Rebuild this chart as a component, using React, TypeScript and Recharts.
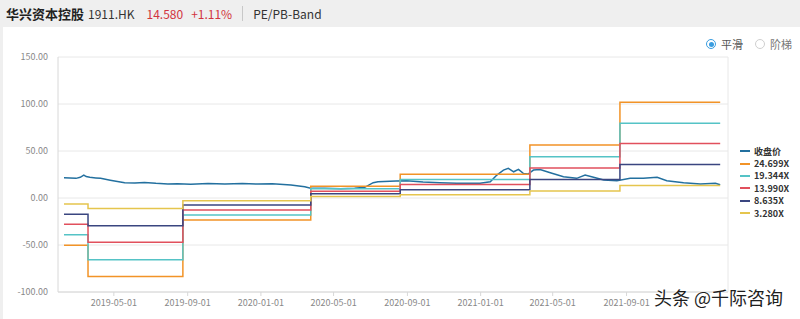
import { CartesianGrid, Line, LineChart, ReferenceLine, XAxis, YAxis } from "recharts";

// close price
const closeDates = [
  "2019-02-07", "2019-02-17", "2019-02-27", "2019-03-06", "2019-03-12", "2019-03-16",
  "2019-03-22", "2019-04-01", "2019-04-09", "2019-04-25", "2019-05-19", "2019-06-05",
  "2019-06-21", "2019-07-10", "2019-07-30", "2019-08-15", "2019-09-06", "2019-10-05",
  "2019-11-02", "2019-12-01", "2019-12-27", "2020-01-20", "2020-02-20", "2020-03-14",
  "2020-03-24", "2020-04-16", "2020-05-13", "2020-06-05", "2020-06-22", "2020-07-06",
  "2020-07-14", "2020-08-13", "2020-08-31", "2020-09-27", "2020-10-25", "2020-11-22",
  "2020-12-31", "2021-01-17", "2021-01-28", "2021-02-08", "2021-02-16", "2021-02-25",
  "2021-03-05", "2021-03-13", "2021-03-21", "2021-03-30", "2021-04-10", "2021-04-27",
  "2021-05-19", "2021-06-10", "2021-06-24", "2021-07-08", "2021-07-25", "2021-08-16",
  "2021-09-07", "2021-09-29", "2021-10-22", "2021-11-07", "2021-12-05", "2022-01-02",
  "2022-01-27", "2022-02-04",
];
const closePrice = [
  21.6, 21.3, 20.9, 22.0, 24.4, 22.8,
  22.0, 21.4, 20.9, 19.0, 16.3, 16.0,
  16.6, 15.6, 14.9, 15.2, 14.5, 15.3,
  14.9, 15.4, 14.9, 15.1, 13.8, 12.0,
  10.3, 10.3, 9.9, 10.4, 11.4, 16.3,
  17.3, 18.0, 18.4, 17.0, 16.3, 15.6,
  15.6, 17.3, 24.4, 29.7, 31.5, 27.9,
  30.4, 26.2, 25.5, 29.7, 30.4, 26.9,
  22.6, 20.9, 24.4, 22.0, 19.1, 18.4,
  20.9, 20.9, 22.0, 18.4, 16.3, 14.9,
  15.6, 14.1,
];

// band levels are flat between report dates
const bandBreaks = [
  "2019-02-07", "2019-03-19", "2019-08-24", "2020-03-24",
  "2020-08-20", "2021-03-24", "2021-08-21", "2022-02-04",
];
const band24699 = [-50.3, -83.5, -23.4, 12.6, 25.2, 56.3, 101.8];
const band19344 = [-39.0, -65.8, -18.0, 9.9, 19.8, 44.0, 79.6];
const band13990 = [-28.0, -47.0, -12.7, 7.2, 14.3, 31.8, 58.0];
const band8635 = [-17.3, -29.4, -7.4, 4.4, 8.8, 19.6, 35.6];
const band3280 = [-6.4, -11.1, -2.8, 1.7, 3.4, 7.5, 13.4];

// the 2022-01-01 label sits under the site stamp in the original, so it is left out
const xTicks = [
  "2019-05-01", "2019-09-01", "2020-01-01", "2020-05-01",
  "2020-09-01", "2021-01-01", "2021-05-01", "2021-09-01",
];
const yTicks = [-100, -50, 0, 50, 100, 150];

const ts = (s: string) => Date.parse(s);
const xMin = ts("2019-01-28");
const xMax = ts("2022-02-17");

const steps = (vals: number[]) => {
  const pts: { t: number; v: number }[] = [];
  vals.forEach((v, i) => {
    pts.push({ t: ts(bandBreaks[i]), v });
    pts.push({ t: ts(bandBreaks[i + 1]), v });
  });
  return pts;
};

const series = [
  { name: "收盘价", color: "#23709f", data: closeDates.map((d, i) => ({ t: ts(d), v: closePrice[i] })) },
  { name: "24.699X", color: "#f29327", data: steps(band24699) },
  { name: "19.344X", color: "#55c3c6", data: steps(band19344) },
  { name: "13.990X", color: "#e1505d", data: steps(band13990) },
  { name: "8.635X", color: "#3a4680", data: steps(band8635) },
  { name: "3.280X", color: "#e5c54e", data: steps(band3280) },
];

const fmtDate = (t: number) => new Date(t).toISOString().slice(0, 10);

export default function App() {
  const font = '"Noto Sans CJK SC", "Noto Sans", sans-serif';
  return (
    <div
      style={{
        position: "absolute",
        left: 0,
        top: 0,
        width: 800,
        height: 319,
        background: "#efefef",
        fontFamily: font,
        overflow: "hidden",
      }}
    >
      {/* header */}
      <div style={{ position: "absolute", left: 6, top: 3, height: 20, display: "flex", alignItems: "center", whiteSpace: "nowrap" }}>
        <span style={{ fontSize: 13, fontWeight: 700, color: "#222" }}>华兴资本控股</span>
        <span style={{ fontSize: 12, color: "#333", marginLeft: 4 }}>1911.HK</span>
        <span style={{ fontSize: 12, color: "#d2343e", marginLeft: 12 }}>14.580</span>
        <span style={{ fontSize: 12, color: "#d2343e", marginLeft: 8 }}>+1.11%</span>
        <span style={{ width: 1, height: 15, background: "#c8c8c8", marginLeft: 10, marginRight: 10 }} />
        <span style={{ fontSize: 12, color: "#333" }}>PE/PB-Band</span>
      </div>

      {/* white panel */}
      <div style={{ position: "absolute", left: 3, top: 27, width: 797, height: 292, background: "#fff" }} />

      {/* smooth / step switch */}
      <div style={{ position: "absolute", left: 706, top: 36, display: "flex", alignItems: "center", fontSize: 11, color: "#555" }}>
        <span style={{ width: 8, height: 8, borderRadius: 6, border: "1px solid #3a9de0", display: "inline-flex", alignItems: "center", justifyContent: "center" }}>
          <span style={{ width: 5, height: 5, borderRadius: 3, background: "#3a9de0" }} />
        </span>
        <span style={{ marginLeft: 5 }}>平滑</span>
        <span style={{ width: 8, height: 8, borderRadius: 6, border: "1px solid #cfcfcf", marginLeft: 12 }} />
        <span style={{ marginLeft: 5, color: "#777" }}>阶梯</span>
      </div>

      <div style={{ position: "absolute", left: 0, top: 0 }}>
        <LineChart width={800} height={319} margin={{ top: 57, right: 72, bottom: 0, left: 0 }}>
          <CartesianGrid vertical={false} stroke="#e8e8e8" />
          <XAxis
            dataKey="t"
            type="number"
            domain={[xMin, xMax]}
            ticks={xTicks.map(ts)}
            tickFormatter={fmtDate}
            height={27}
            tick={{ fill: "#888", fontSize: 9 }}
            tickSize={4}
            tickMargin={4}
            stroke="#d8d8d8"
            allowDataOverflow
          />
          <YAxis
            type="number"
            domain={[-100, 150]}
            ticks={yTicks}
            tickFormatter={(v: number) => v.toFixed(2)}
            width={58}
            tick={{ fill: "#888", fontSize: 9 }}
            tickLine={false}
            tickSize={0}
            tickMargin={10}
            stroke="#d8d8d8"
          />
          <ReferenceLine x={xMax} stroke="#e8e8e8" />
          {series.map((s) => (
            <Line
              key={s.name}
              data={s.data}
              dataKey="v"
              name={s.name}
              type="linear"
              stroke={s.color}
              strokeWidth={1.5}
              dot={false}
              activeDot={false}
              isAnimationActive={false}
            />
          ))}
        </LineChart>
      </div>

      {/* legend */}
      <div style={{ position: "absolute", left: 740, top: 145 }}>
        {series.map((s) => (
          <div key={s.name} style={{ display: "flex", alignItems: "center", height: 12.4 }}>
            <span style={{ width: 10, height: 2, background: s.color }} />
            <span style={{ marginLeft: 4, fontSize: 9, fontWeight: 700, color: "#333", lineHeight: "11px" }}>{s.name}</span>
          </div>
        ))}
      </div>

      {/* site stamp */}
      <div
        style={{
          position: "absolute",
          left: 654,
          top: 286,
          fontSize: 18,
          lineHeight: "22px",
          color: "#1e1e1e",
          whiteSpace: "nowrap",
          textShadow: "0 0 2px #fff, 0 0 2px #fff, 0 0 3px #fff",
        }}
      >
        头条 @千际咨询
      </div>
    </div>
  );
}
